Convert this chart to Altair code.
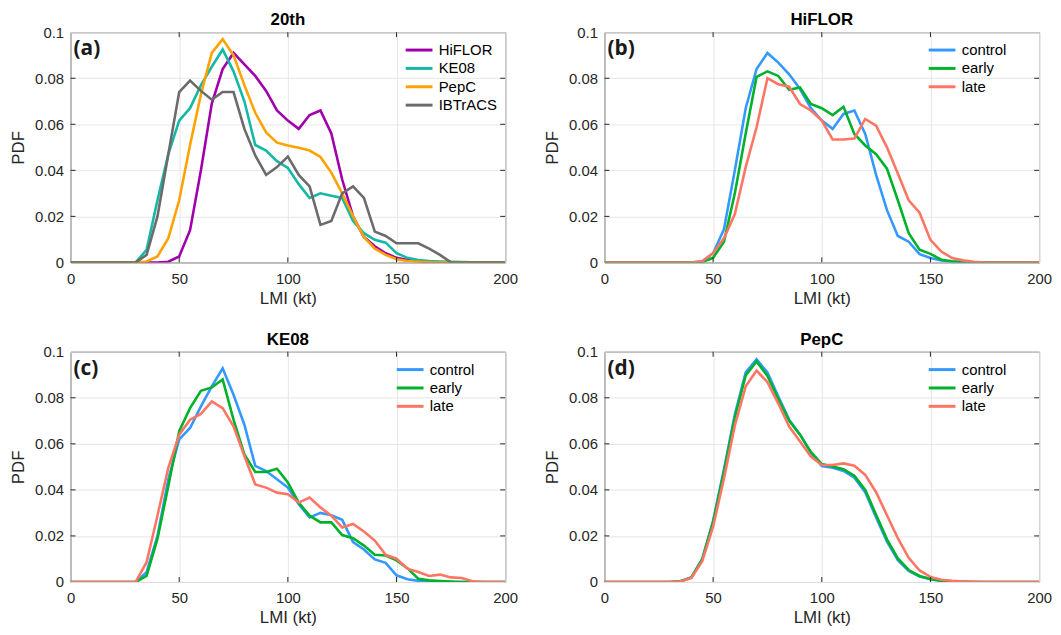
import altair as alt
import pandas as pd

# ---------------- data ----------------
kt = list(range(0, 205, 5))  # LMI bins (kt)

# Panel (a) 20th
a_names = ["HiFLOR", "KE08", "PepC", "IBTrACS"]
a_colors = ["#A000AA", "#14B8A6", "#FFA200", "#6B6B6B"]
hiflor_20 = [0]*9 + [0.0003, 0.0026, 0.014, 0.040, 0.069, 0.084, 0.091, 0.086, 0.081, 0.0745,
                     0.066, 0.0616, 0.058, 0.064, 0.066, 0.056, 0.036, 0.020, 0.011, 0.007,
                     0.004, 0.002, 0.001, 0.0005, 0.0002] + [0]*7
ke08_20 = [0]*6 + [0, 0.0055, 0.027, 0.047, 0.0616, 0.067, 0.077, 0.085, 0.0925, 0.083,
                   0.070, 0.051, 0.0486, 0.044, 0.041, 0.034, 0.028, 0.030, 0.029, 0.028,
                   0.018, 0.0127, 0.0098, 0.0086, 0.004, 0.002, 0.001, 0.0006, 0.0004, 0.0003,
                   0.0002, 0.0001, 0, 0, 0]
pepc_20 = [0]*6 + [0, 0.0004, 0.0026, 0.0105, 0.027, 0.051, 0.073, 0.091, 0.097, 0.090,
                   0.077, 0.065, 0.0565, 0.052, 0.0508, 0.0498, 0.0486, 0.0458, 0.039, 0.030,
                   0.020, 0.011, 0.006, 0.0033, 0.0014, 0.0006, 0.0003, 0.0001] + [0]*7
ibtracs_20 = [0]*6 + [0, 0.0033, 0.020, 0.047, 0.074, 0.079, 0.0745, 0.0707, 0.074, 0.074,
                      0.058, 0.0465, 0.038, 0.0414, 0.046, 0.038, 0.033, 0.0163, 0.018, 0.030,
                      0.033, 0.028, 0.0134, 0.0115, 0.0083, 0.0083, 0.0083, 0.006, 0.0033, 0] + [0]*5

# Experiments
e_names = ["control", "early", "late"]
e_colors = ["#3399FF", "#00B22A", "#FF7563"]

# Panel (b) HiFLOR
hiflor_control = [0]*9 + [0.0005, 0.004, 0.0144, 0.040, 0.067, 0.084, 0.091, 0.0868, 0.0817, 0.0753,
                          0.067, 0.0616, 0.058, 0.0645, 0.066, 0.0558, 0.038, 0.0227, 0.0115, 0.009,
                          0.0036, 0.0019, 0.0008, 0.0003, 0.0001] + [0]*7
hiflor_early = [0]*9 + [0.0002, 0.002, 0.009, 0.030, 0.056, 0.0806, 0.083, 0.081, 0.075, 0.076,
                        0.0688, 0.067, 0.064, 0.0676, 0.0558, 0.0508, 0.047, 0.0407, 0.027, 0.0127,
                        0.0055, 0.0037, 0.0012, 0.0005, 0.0002] + [0]*7
hiflor_late = [0]*9 + [0.0005, 0.004, 0.0105, 0.021, 0.0414, 0.0587, 0.080, 0.0774, 0.0763, 0.0688,
                       0.066, 0.0616, 0.0534, 0.0534, 0.0538, 0.0623, 0.0594, 0.050, 0.0386, 0.027,
                       0.0216, 0.0098, 0.0047, 0.0019, 0.0009, 0.0003] + [0]*6

# Panel (c) KE08
ke08_control = [0]*6 + [0, 0.0043, 0.020, 0.0446, 0.0619, 0.0669, 0.0763, 0.085, 0.0928, 0.0813,
                        0.0683, 0.0504, 0.0482, 0.0446, 0.041, 0.0338, 0.028, 0.030, 0.029, 0.027,
                        0.0173, 0.0141, 0.0098, 0.0083, 0.0029, 0.0012, 0.0005, 0.0002] + [0]*7
ke08_early = [0]*6 + [0, 0.0026, 0.0187, 0.0417, 0.0655, 0.0755, 0.083, 0.0845, 0.088, 0.0705,
                      0.0554, 0.0478, 0.0478, 0.0492, 0.0432, 0.0345, 0.0288, 0.0259, 0.0259, 0.0204,
                      0.019, 0.0158, 0.0118, 0.0115, 0.0094, 0.006, 0.0014, 0.0007, 0.0004, 0.0002] + [0]*5
ke08_late = [0]*6 + [0, 0.0086, 0.0288, 0.0496, 0.064, 0.0705, 0.073, 0.0784, 0.0755, 0.0676,
                     0.0547, 0.0424, 0.041, 0.0388, 0.0381, 0.0345, 0.0367, 0.0324, 0.0288, 0.0237,
                     0.0252, 0.0219, 0.018, 0.0118, 0.0101, 0.0058, 0.0043, 0.0026, 0.0032, 0.002,
                     0.0017, 0.0003] + [0]*3

# Panel (d) PepC
pepc_control = [0]*7 + [0.0003, 0.002, 0.010, 0.0266, 0.049, 0.0727, 0.091, 0.0967, 0.091, 0.0806,
                        0.0705, 0.064, 0.056, 0.0504, 0.0496, 0.0482, 0.0453, 0.039, 0.028, 0.0175,
                        0.0095, 0.0048, 0.0024, 0.0012, 0.0005, 0.0002, 0.0001] + [0]*7
pepc_early = [0]*7 + [0.0003, 0.002, 0.0098, 0.026, 0.048, 0.0715, 0.0897, 0.0958, 0.0895, 0.0795,
                      0.0700, 0.0640, 0.0565, 0.0512, 0.0502, 0.0490, 0.0462, 0.040, 0.0292, 0.0185,
                      0.0102, 0.0052, 0.0026, 0.0013, 0.0006, 0.0002, 0.0001] + [0]*7
pepc_late = [0]*7 + [0.0002, 0.0018, 0.009, 0.024, 0.045, 0.068, 0.085, 0.0918, 0.0868, 0.0775,
                     0.0675, 0.061, 0.0545, 0.0508, 0.0508, 0.0515, 0.0505, 0.0465, 0.039, 0.029,
                     0.019, 0.0105, 0.005, 0.0022, 0.001, 0.0005, 0.0002, 0.0001] + [0]*6

x_ticks = [0, 50, 100, 150, 200]
y_ticks = [0, 0.02, 0.04, 0.06, 0.08, 0.1]
x_inner = [50, 100, 150]
y_inner = [0.02, 0.04, 0.06, 0.08]

W, H = 438, 232
FONT = "Liberation Sans"
INK = "#262626"


def long_df(names, series):
    rows = []
    for n, s in zip(names, series):
        for k, v in zip(kt, s):
            rows.append({"kt": k, "pdf": v, "series": n})
    return pd.DataFrame(rows)


def panel(title, tag, names, colors, series, legend_x):
    df = long_df(names, series)
    xs = alt.Scale(domain=[0, 200], nice=False, zero=False)
    ys = alt.Scale(domain=[0, 0.1], nice=False)
    xax = alt.Axis(values=x_ticks, title="LMI (kt)", labelPadding=9, titlePadding=4, grid=True,
                   labelFlush=False)
    yax = alt.Axis(values=y_ticks, title="PDF", format="~g", labelPadding=7, titlePadding=7, grid=True,
                   labelFlush=False)
    lines = alt.Chart(df).mark_line(strokeWidth=2.6, clip=True).encode(
        x=alt.X("kt:Q", scale=xs, axis=xax),
        y=alt.Y("pdf:Q", scale=ys, axis=yax),
        color=alt.Color("series:N", scale=alt.Scale(domain=names, range=colors),
                        legend=alt.Legend(title=None, orient="none", legendX=legend_x, legendY=9.5,
                                          symbolType="M-1,0H3", symbolSize=182,
                                          symbolStrokeWidth=3, labelFontSize=15, labelFont=FONT,
                                          labelColor="#000000", labelOffset=18, rowPadding=1.5,
                                          padding=0)),
    )
    xt = pd.DataFrame({"kt": x_inner})
    yt = pd.DataFrame({"pdf": y_inner})
    xb = alt.Chart(xt).mark_rule(color=INK, strokeWidth=1).encode(
        x=alt.X("kt:Q", scale=xs, axis=xax), y=alt.value(H), y2=alt.value(H - 5))
    xtop = alt.Chart(xt).mark_rule(color=INK, strokeWidth=1).encode(
        x=alt.X("kt:Q", scale=xs, axis=xax), y=alt.value(0), y2=alt.value(5))
    yl = alt.Chart(yt).mark_rule(color=INK, strokeWidth=1).encode(
        y=alt.Y("pdf:Q", scale=ys, axis=yax), x=alt.value(0), x2=alt.value(5))
    yr = alt.Chart(yt).mark_rule(color=INK, strokeWidth=1).encode(
        y=alt.Y("pdf:Q", scale=ys, axis=yax), x=alt.value(W - 5), x2=alt.value(W))
    lab = alt.Chart(pd.DataFrame({"t": [tag]})).mark_text(
        font="Open Sans", fontSize=21, fontWeight="bold", align="left", baseline="middle",
        color="#1a1a1a").encode(text="t:N", x=alt.value(3), y=alt.value(17))
    return alt.layer(lines, xb, xtop, yl, yr, lab).properties(
        width=W, height=H,
        title=alt.TitleParams(text=title, fontSize=17, font=FONT, fontWeight="bold",
                              anchor="middle", offset=-4, color="#000000"))


pa = panel("20th", "(a)", a_names, a_colors, [hiflor_20, ke08_20, pepc_20, ibtracs_20], 336)
pb = panel("HiFLOR", "(b)", e_names, e_colors, [hiflor_control, hiflor_early, hiflor_late], 325)
pc = panel("KE08", "(c)", e_names, e_colors, [ke08_control, ke08_early, ke08_late], 327)
pd_ = panel("PepC", "(d)", e_names, e_colors, [pepc_control, pepc_early, pepc_late], 325)

row1 = alt.hconcat(pa, pb, spacing=24).resolve_scale(color="independent").resolve_legend(color="independent")
row2 = alt.hconcat(pc, pd_, spacing=24).resolve_scale(color="independent").resolve_legend(color="independent")
chart = alt.vconcat(row1, row2, spacing=23).resolve_scale(color="independent").resolve_legend(
    color="independent").properties(
    padding={"left": 1, "top": 0, "right": 0, "bottom": 0}, background="white").configure_view(
    stroke=INK, strokeWidth=1).configure_axis(
    domain=False, ticks=False, gridColor="#e6e6e6", gridWidth=1, labelFont=FONT, labelFontSize=15,
    labelColor=INK, titleFont=FONT, titleFontSize=17, titleFontWeight="normal", titleColor=INK)

chart.save("out.html", embed_options={"renderer": "svg", "actions": False})
